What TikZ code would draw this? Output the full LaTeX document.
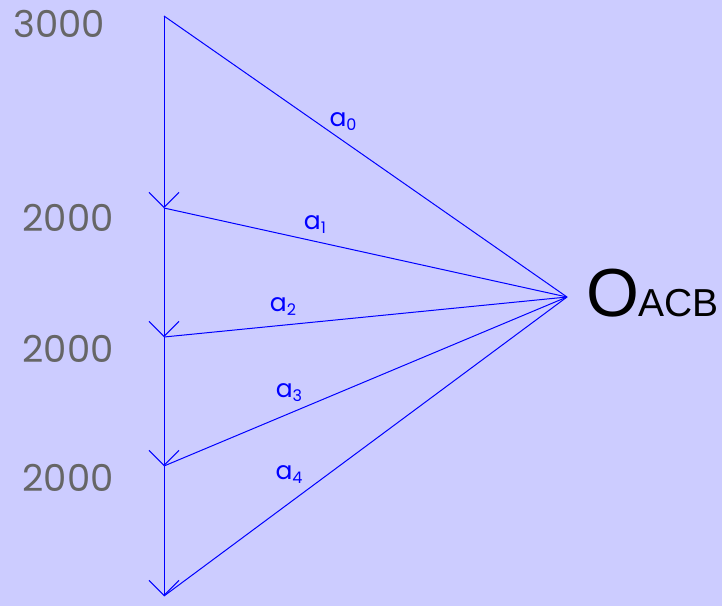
\documentclass[tikz,border=0pt]{standalone}
\usepackage{fontspec}
\setmainfont{Poppins}
\newfontfamily\polefont{Liberation Sans}
\usetikzlibrary{arrows.meta}
\definecolor{bgcol}{HTML}{CCCCFF}
\definecolor{linecol}{HTML}{0000FF}
\newcommand{\rsub}[1]{\raisebox{-4pt}{\fontsize{16}{18}\selectfont #1}}
\begin{document}
\begin{tikzpicture}[
        x=1pt, y=-1pt,
        vec/.style={draw=linecol, line width=1pt},
        force/.style={vec, -{Straight Barb[length=15pt, width=30pt, line width=1pt]}},
        load/.style={text=black!60, font=\fontsize{37}{40}\selectfont, inner sep=0pt},
        ray/.style={text=linecol, font=\fontsize{25}{28}\selectfont, inner sep=0pt},
    ]
    \fill[bgcol] (0,0) rectangle (722,606);
    \useasboundingbox (0,0) rectangle (722,606);
    \coordinate (v0) at (164,16);
    \coordinate (v1) at (164,208);
    \coordinate (v2) at (164,337);
    \coordinate (v3) at (164,466);
    \coordinate (v4) at (164,596);
    \coordinate (O) at (567,297);
    % load line
    \draw[force] (v0) -- (v1);
    \draw[force] (v1) -- (v2);
    \draw[force] (v2) -- (v3);
    \draw[force] (v3) -- (v4);
    % rays
    \foreach \i in {0,...,4}
        \draw[vec] (v\i) -- (O);
    \node[load] (l0) at (59,24) {3000};
    \node[load] (l1) at (68,218) {2000};
    \node[load] (l2) at (68,349) {2000};
    \node[load] (l3) at (68,478) {2000};
    \node[ray] (a0) at (343,122) {a\rsub{0}};
    \node[ray] (a1) at (315,225) {a\rsub{1}};
    \node[ray] (a2) at (283,307) {a\rsub{2}};
    \node[ray] (a3) at (289,393) {a\rsub{3}};
    \node[ray] (a4) at (289,475) {a\rsub{4}};
    \node[anchor=base west, inner sep=0pt, font=\polefont\fontsize{68}{72}\selectfont] (pole) at (586,316)
        {O\kern-1pt{\fontsize{39}{42}\selectfont ACB}};
\end{tikzpicture}
\end{document}
